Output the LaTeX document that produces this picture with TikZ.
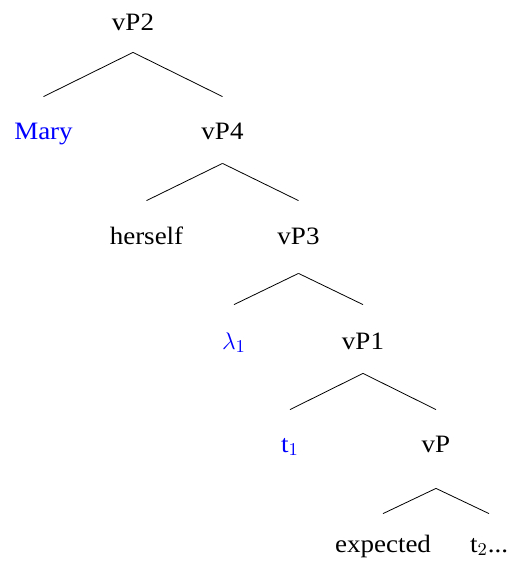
\documentclass[tikz,border=0pt]{standalone}
\usepackage{fontspec}
\setmainfont{Liberation Serif}[FakeStretch=1.08]
\usetikzlibrary{trees}

\tikzset{
  linkgap/.style 2 args={edge from parent path={([yshift=-#1]\tikzparentnode.south) -- ([yshift=#2]\tikzchildnode.north)}},
  moved/.style={text=blue},
}

\begin{document}
\begin{tikzpicture}[
every node/.style = {font=\fontsize{12.5}{15}\selectfont, inner sep=0pt, text height=8pt, text depth=2pt, align=center},
level 1/.style = {sibling distance=89.5pt, level distance=54.5pt, linkgap={8.5pt}{13.5pt}},
level 2/.style = {sibling distance=76pt, level distance=52pt, linkgap={9.5pt}{13.5pt}},
level 3/.style = {sibling distance=64.5pt, level distance=52.5pt, linkgap={12.5pt}{14pt}},
level 4/.style = {sibling distance=73pt, level distance=51.5pt, linkgap={10pt}{13pt}},
level 5/.style = {sibling distance=53pt, level distance=50pt, linkgap={16pt}{11pt}},
]
  \useasboundingbox (-66.5pt,12.5pt) rectangle (188.5pt,-271pt);
  \node (vp2) {vP2}
    child {node[moved] (mary) {Mary}}
    child {
        node (vp4) {vP4}
        child {node (herself) {herself}}
        child {
            node (vp3) {vP3}
            child {node[moved] (lambda1) {$\lambda_1$}}
            child {
                node (vp1) {vP1}
                child {node[moved] (t1) {t$_1$}}
                child {
                    node (vp) {vP}
                    child {node (expected) {expected}}
                    child {node (t2) {t$_2$...}}
                    }
                }
            }
        };
\end{tikzpicture}
\end{document}
